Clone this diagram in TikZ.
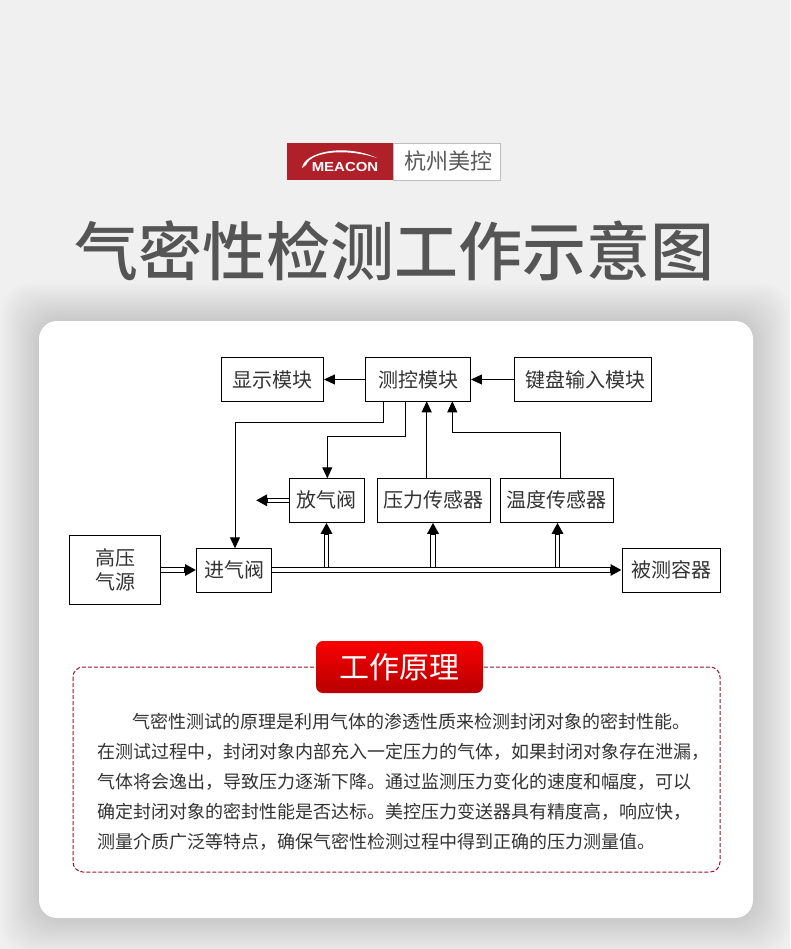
\documentclass[tikz,border=0pt]{standalone}
\usepackage{fontspec}
\usepackage{xcolor}
\usetikzlibrary{arrows.meta}
\setmainfont{Noto Sans CJK SC}
\newfontfamily\logofont{Liberation Sans}
\newfontfamily\titlefont{Noto Sans CJK SC Medium}
\definecolor{pagegrey}{HTML}{F0F0F0}
\definecolor{logored}{HTML}{B02028}
\definecolor{textgrey}{HTML}{333333}
\definecolor{titlegrey}{HTML}{555555}
\definecolor{framered}{HTML}{98142C}
\tikzset{
  block/.style={draw=black,fill=white,line width=0.9pt,minimum height=44pt,inner sep=0pt,
    font=\fontsize{20}{24}\selectfont,text=textgrey,align=center},
  para/.style={anchor=west,inner sep=0pt,font=\fontsize{18}{20}\selectfont,text=textgrey},
  sig/.style={line width=0.9pt,-{Triangle[length=11pt,width=10pt]}},
  pipe/.style={line width=5.2pt,-{Triangle[length=11pt,width=11pt]},
    postaction={draw=white,line width=3.2pt,-,shorten >=12pt}}
}
\begin{document}
\begin{tikzpicture}[x=1pt,y=-1pt]
    \useasboundingbox (0,0) rectangle (790,949);
    \fill[pagegrey] (0,0) rectangle (790,949);

    % soft shadow round the card
    \foreach \s in {38,36,...,0} {
        \fill[black,opacity=0.007,rounded corners=28pt] (39-\s,321-\s) rectangle (753+\s,918+\s);
    }
    \fill[white,rounded corners=18pt] (39,321) rectangle (753,918);

    % logo
    \node (logored) [fill=logored,minimum width=106pt,minimum height=37pt,inner sep=0pt] at (340,161.5) {};
    \node (logotext) [draw=black!25,fill=white,minimum width=107pt,minimum height=37pt,inner sep=0pt,
        font=\fontsize{22}{24}\selectfont,text=black!65] at (446.5,161.5) {\hspace{3pt}杭州美控};
    \node (logoname) [font=\logofont\bfseries\fontsize{13}{13}\selectfont,text=white,inner sep=0pt,xscale=1.15] at (345,167.5) {MEACON};
    \fill[white] (302,168) .. controls (304,152) and (345,143) .. (377,158)
        .. controls (350,149) and (312,150) .. (306,165) -- cycle;

    \node (title) [font=\titlefont\fontsize{64}{72}\selectfont,text=titlegrey,inner sep=0pt] at (394,251) {气密性检测工作示意图};

    % blocks
    \node (show) [block,minimum width=102pt] at (272.5,379.5) {显示模块};
    \node (ctrl) [block,minimum width=105pt] at (418,379.5) {测控模块};
    \node (keys) [block,minimum width=137pt] at (583,379.5) {\hspace{5pt}键盘输入模块};
    \node (vent) [block,minimum width=75pt] at (326.8,500.3) {放气阀};
    \node (press) [block,minimum width=113pt] at (433.8,500.3) {压力传感器};
    \node (temp) [block,minimum width=113pt] at (556.8,500.3) {温度传感器};
    \node (source) [block,minimum width=91pt,minimum height=69pt] at (115,570) {高压\\气源};
    \node (inlet) [block,minimum width=75pt] at (234,570) {进气阀};
    \node (vessel) [block,minimum width=98pt] at (671,570) {被测容器};

    \coordinate (ctrlout1) at (383.5,401.3);
    \coordinate (ctrlout2) at (405.7,401.3);
    \coordinate (ctrlin1) at (426.7,401.3);
    \coordinate (ctrlin2) at (452.3,401.3);
    \coordinate (tempout) at (560.7,478.3);
    \coordinate (vententer) at (327.3,478.3);
    \coordinate (inletenter) at (235,548.3);
    \coordinate (ventout) at (256,500.3);
    \coordinate (tee1) at (326.5,570);
    \coordinate (tee2) at (433,570);
    \coordinate (tee3) at (557.5,570);

    % signal lines
    \draw[sig] (ctrl) -- (show);
    \draw[sig] (keys) -- (ctrl);
    \draw[sig] (ctrlout1) |- (235,422.3) -- (inletenter);
    \draw[sig] (ctrlout2) |- (327.3,436) -- (vententer);
    \draw[sig] (ctrlin1 |- press.north) -- (ctrlin1);
    \draw[sig] (tempout) |- (452.3,432.3) -- (ctrlin2);

    % gas lines
    \draw[pipe] (vent) -- (ventout);
    \draw[pipe] (source.east |- inlet) -- (inlet);
    \draw[pipe] (tee1) -- (tee1 |- vent.south);
    \draw[pipe] (tee2) -- (tee2 |- press.south);
    \draw[pipe] (tee3) -- (tee3 |- temp.south);
    \draw[pipe] (inlet) -- (vessel);

    % principle panel
    \draw[framered,line width=1pt,dash pattern=on 4pt off 2pt,rounded corners=10pt] (73,667) rectangle (720,872);
    \node (head) [top color=red!98!black,bottom color=red!72!black,rounded corners=7pt,minimum width=167pt,minimum height=52pt,
        inner sep=0pt,text=white,font=\fontsize{30}{34}\selectfont] at (399.5,667) {工作原理};
    \node (line1) [para] at (132,722) {气密性测试的原理是利用气体的渗透性质来检测封闭对象的密封性能。};
    \node (line2) [para] at (97,752) {在测试过程中，封闭对象内部充入一定压力的气体，如果封闭对象存在泄漏，};
    \node (line3) [para] at (97,782) {气体将会逸出，导致压力逐渐下降。通过监测压力变化的速度和幅度，可以};
    \node (line4) [para] at (97,812) {确定封闭对象的密封性能是否达标。美控压力变送器具有精度高，响应快，};
    \node (line5) [para] at (97,842) {测量介质广泛等特点，确保气密性检测过程中得到正确的压力测量值。};
\end{tikzpicture}
\end{document}
